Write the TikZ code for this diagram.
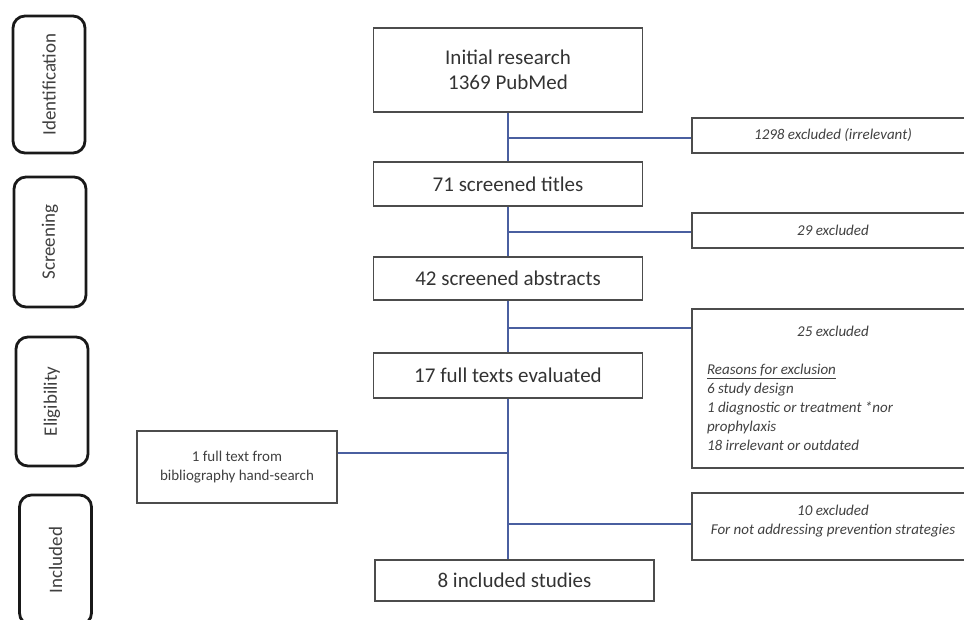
\documentclass[tikz,border=0pt]{standalone}
\usepackage{fontspec}
\setmainfont{Carlito}
\usetikzlibrary{positioning}
\definecolor{linkblue}{HTML}{4A5FA0}

\begin{document}
\begin{tikzpicture}[x=1pt, y=-1pt,
                    stagenode/.style={rectangle, rounded corners=12pt, draw=black!90, line width=2.8pt, rotate=90, minimum height=72pt, inner sep=0pt, text=black!75, font=\fontsize{19}{22}\selectfont},
                    mainnode/.style={rectangle, draw=black!70, line width=1.5pt, minimum width=269pt, inner sep=0pt, text=black!80, align=center, font=\fontsize{21}{25}\selectfont},
                    exclnode/.style={rectangle, draw=black!70, line width=1.5pt, minimum width=282pt, inner sep=0pt, text=black!75, align=center, font=\fontsize{15}{19}\selectfont\itshape},
                    bluelink/.style={draw=linkblue, line width=1.4pt},
                ]
                \useasboundingbox (0,0) rectangle (964,619);
                %Stages
                \node[stagenode, minimum width=137pt] (ident)  at (49,84.5)  {Identification};
                \node[stagenode, minimum width=130pt] (screen) at (50,242)   {Screening};
                \node[stagenode, minimum width=129pt] (elig)   at (52,401.5) {Eligibility};
                \node[stagenode, minimum width=130pt] (incl)   at (55.5,560) {Included};

                %Nodes
                \node[mainnode, minimum height=84pt] (init)      at (508,70)    {Initial research\\1369 PubMed};
                \node[mainnode, minimum height=44pt] (titles)    at (508,184)   {71 screened titles};
                \node[mainnode, minimum height=43pt] (abstracts) at (508,278.5) {42 screened abstracts};
                \node[mainnode, minimum height=45pt] (fulltexts) at (508,375.5) {17 full texts evaluated};
                \node[mainnode, minimum height=41pt, minimum width=279pt] (studies) at (514.5,580.5) {8 included studies};

                \node[exclnode, minimum height=35pt] (excl_1) at (833,135.5) {1298 excluded (irrelevant)};
                \node[exclnode, minimum height=35pt] (excl_2) at (833,230.5) {29 excluded};
                \node[exclnode, minimum height=159pt, align=flush left, text width=252pt, inner xsep=15pt] (excl_3) at (833,388.5)
                    {{\centering 25 excluded\par}\vspace{19pt}
                     \underline{Reasons for exclusion}\\
                     6 study design\\
                     1 diagnostic or treatment *nor\\
                     prophylaxis\\
                     18 irrelevant or outdated};
                \node[exclnode, minimum height=67pt] (excl_4) at (833,526.5) {10 excluded\\For not addressing prevention strategies\\[-5pt]~};

                \node[exclnode, minimum width=200pt, minimum height=72pt, font=\fontsize{15}{19}\selectfont] (hand) at (237,467) {1 full text from\\bibliography hand-search};

                %Lines
                \coordinate (j_1) at (508,138);
                \coordinate (j_2) at (508,232);
                \coordinate (j_3) at (508,328);
                \coordinate (j_4) at (508,453);
                \coordinate (j_5) at (508,524);
                \draw[bluelink] (init.south) -- (titles.north);
                \draw[bluelink] (titles.south) -- (abstracts.north);
                \draw[bluelink] (abstracts.south) -- (fulltexts.north);
                \draw[bluelink] (fulltexts.south) -- (fulltexts.south |- studies.north);
                \draw[bluelink] (j_1) -- (j_1 -| excl_1.west);
                \draw[bluelink] (j_2) -- (j_2 -| excl_2.west);
                \draw[bluelink] (j_3) -- (j_3 -| excl_3.west);
                \draw[bluelink] (j_4) -- (j_4 -| hand.east);
                \draw[bluelink] (j_5) -- (j_5 -| excl_4.west);
\end{tikzpicture}
\end{document}
